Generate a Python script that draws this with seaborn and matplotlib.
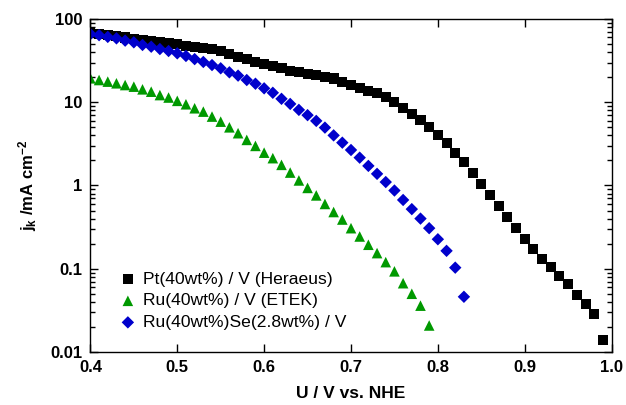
import numpy as np
import pandas as pd
import seaborn as sns
import matplotlib
matplotlib.use("Agg")
import matplotlib.pyplot as plt
from matplotlib.ticker import LogLocator, FuncFormatter, MultipleLocator, NullFormatter

sns.set_style("ticks")
plt.rcParams['font.family'] = ['Liberation Sans', 'DejaVu Sans']
plt.rcParams['mathtext.fontset'] = 'custom'
plt.rcParams['mathtext.rm'] = 'Liberation Sans:bold'
plt.rcParams['mathtext.it'] = 'Liberation Sans:bold'
plt.rcParams['mathtext.bf'] = 'Liberation Sans:bold'
for k in ['text.color', 'axes.labelcolor', 'xtick.color', 'ytick.color', 'axes.edgecolor']:
    plt.rcParams[k] = 'black'

# potentials (V vs. NHE), 0.01 V steps
u_pt = np.round(np.arange(0.40, 0.995, 0.01), 2)
u_ru = np.round(np.arange(0.40, 0.795, 0.01), 2)
u_ruse = np.round(np.arange(0.40, 0.835, 0.01), 2)

# kinetic current densities (mA cm^-2)
j_pt = [68, 66, 64, 62, 60, 58, 56, 55, 53, 51,
        49.5, 48, 46.5, 45, 43.5, 41, 38, 35, 33, 30.5,
        29, 27.5, 25.5, 24, 23, 22, 21, 20.3, 19.3, 17.7,
        16.1, 15.0, 13.8, 12.8, 11.5, 10.0, 8.5, 7.2, 6.1, 5.0,
        4.0, 3.2, 2.44, 1.9, 1.41, 1.04, 0.76, 0.56, 0.416, 0.307,
        0.226, 0.172, 0.130, 0.104, 0.081, 0.065, 0.048, 0.0376, 0.0285, 0.0139]
j_ru = [19.4, 18.5, 17.7, 16.9, 16.1, 15.4, 14.3, 13.4, 12.2, 11.4,
        10.4, 9.46, 8.47, 7.72, 6.73, 5.85, 5.0, 4.25, 3.53, 2.99,
        2.48, 2.13, 1.77, 1.43, 1.15, 0.935, 0.76, 0.60, 0.48, 0.39,
        0.307, 0.244, 0.194, 0.154, 0.12, 0.093, 0.067, 0.050, 0.036, 0.0208]
j_ruse = [66, 64, 61, 58.6, 55, 52.5, 48.8, 46.5, 43.6, 41.3,
          38.7, 36, 33, 30.5, 28, 25.6, 22.9, 20.9, 18.5, 16.7,
          14.7, 13.0, 11.0, 9.55, 8.1, 7.0, 5.97, 4.96, 4.0, 3.27,
          2.67, 2.16, 1.72, 1.38, 1.10, 0.87, 0.67, 0.52, 0.40, 0.307,
          0.226, 0.164, 0.103, 0.046]

labels = ['Pt(40wt%) / V (Heraeus)', 'Ru(40wt%) / V (ETEK)', 'Ru(40wt%)Se(2.8wt%) / V']

df = pd.concat([
    pd.DataFrame({'U': u_pt, 'j': j_pt, 'cat': labels[0]}),
    pd.DataFrame({'U': u_ru, 'j': j_ru, 'cat': labels[1]}),
    pd.DataFrame({'U': u_ruse, 'j': j_ruse, 'cat': labels[2]}),
], ignore_index=True)

fig = plt.figure(figsize=(6.26, 4.05), dpi=100)
ax = fig.add_axes([0.1444, 0.131, 0.8326, 0.822])

colors = ['#000000', '#009900', '#0000cc']
markers = ['s', '^', 'D']
sizes = [52, 58, 40]
for lab, c, m, s in zip(labels, colors, markers, sizes):
    sns.scatterplot(data=df[df.cat == lab], x='U', y='j', color=c, marker=m, s=s,
                    edgecolor='none', linewidth=0, label=lab, ax=ax)

ax.set_yscale('log')
ax.set_xlim(0.4, 1.0)
ax.set_ylim(0.01, 100)
ax.xaxis.set_major_locator(MultipleLocator(0.1))
ax.xaxis.set_major_formatter(FuncFormatter(lambda v, _: f'{v:.1f}'))
ax.yaxis.set_major_locator(LogLocator(base=10))
ax.yaxis.set_minor_locator(LogLocator(base=10, subs=np.arange(2, 10)))
ax.yaxis.set_major_formatter(FuncFormatter(lambda v, _: f'{v:g}'))
ax.yaxis.set_minor_formatter(NullFormatter())

ax.tick_params(which='both', direction='in', top=True, right=True, width=1.0, color='black')
ax.tick_params(which='major', length=6, labelsize=12, pad=6)
ax.tick_params(which='minor', length=3.5)
for t in ax.get_xticklabels() + ax.get_yticklabels():
    t.set_fontweight('bold')
for sp in ax.spines.values():
    sp.set_linewidth(1.0)
    sp.set_color('black')

ax.set_xlabel('U / V vs. NHE', fontsize=12.5, fontweight='bold', labelpad=8)
ax.set_ylabel(r'$j_k$ /mA cm$^{-2}$', fontsize=12, fontweight='bold', labelpad=8)

leg = ax.legend(loc='lower left', bbox_to_anchor=(0.04, 0.045), frameon=False,
                fontsize=12.6, handletextpad=0.3, labelspacing=0.36, borderaxespad=0,
                handlelength=1.1)

fig.savefig('out.png', dpi=100)
